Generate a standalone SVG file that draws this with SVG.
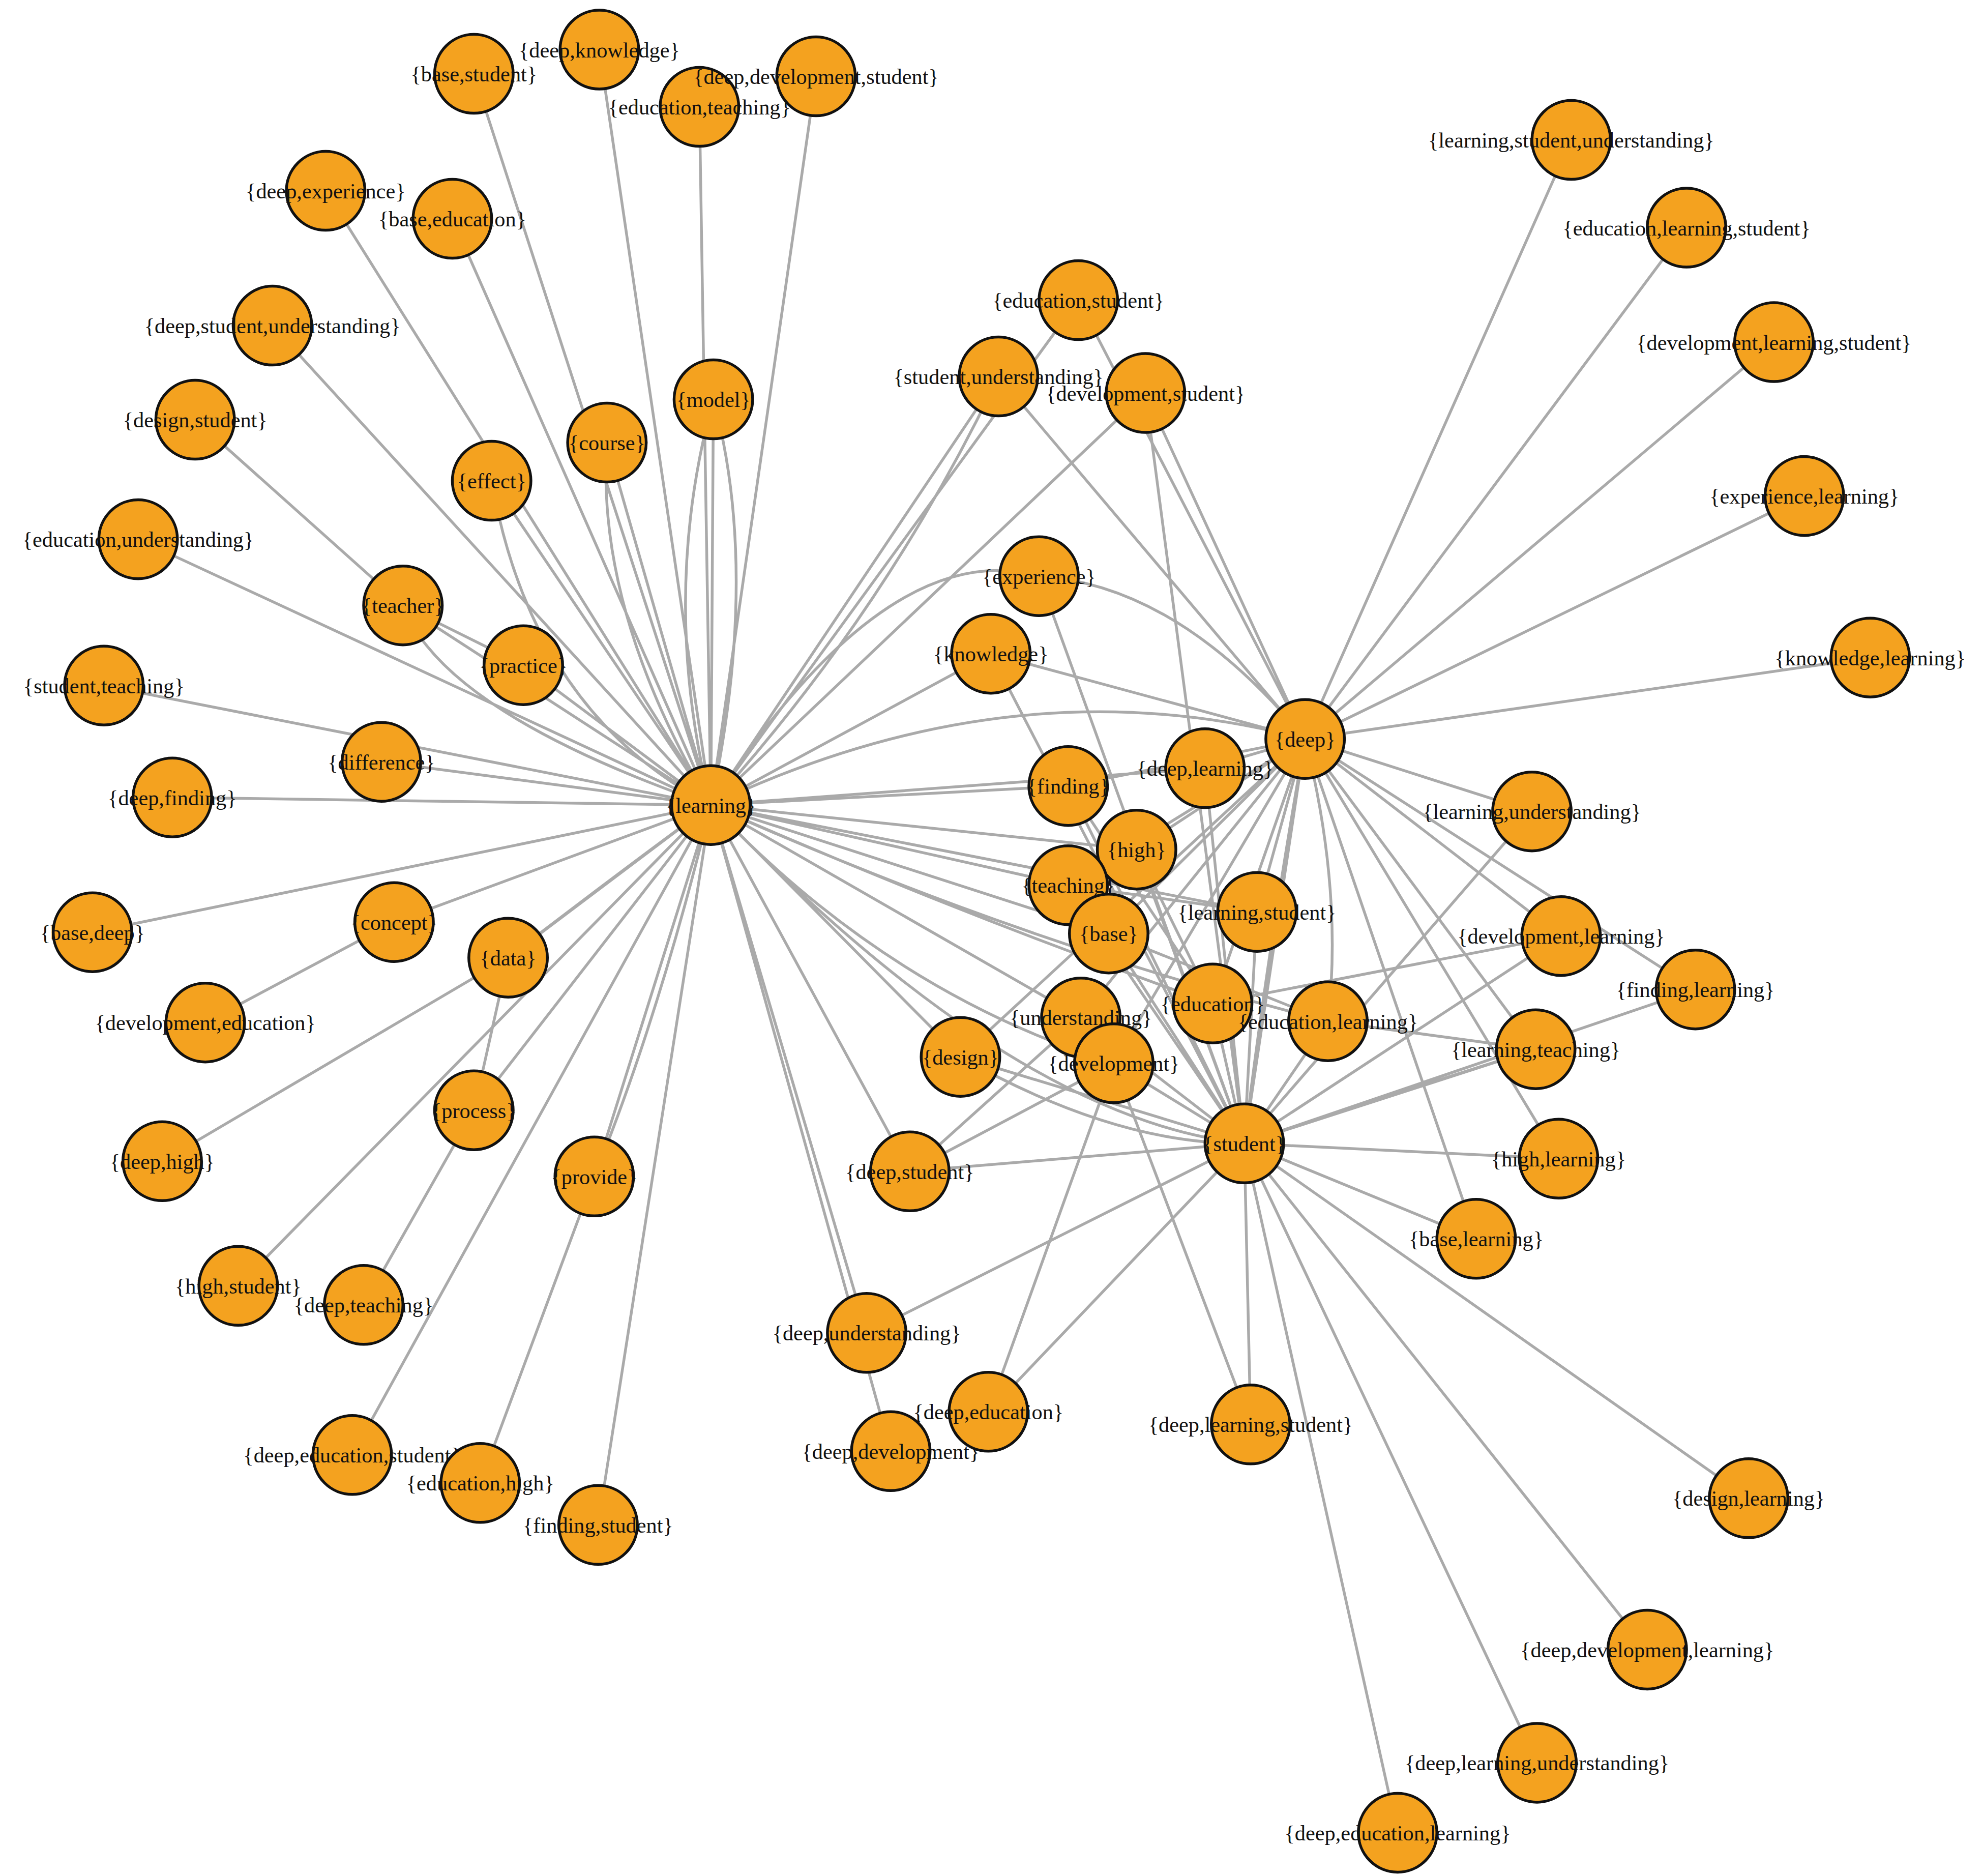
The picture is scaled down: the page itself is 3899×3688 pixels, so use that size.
<svg xmlns="http://www.w3.org/2000/svg" width="3899" height="3688" viewBox="0 0 3899 3688">
<style>
.e{stroke:#aaaaaa;stroke-width:2.2;fill:none}
.n circle{fill:#f4a21f;stroke:#111;stroke-width:2.2}
.n text{font-family:"Liberation Serif",serif;font-size:17px;text-anchor:middle;fill:#111}
</style>
<rect width="3899" height="3688" fill="#fff"/>
<g transform="scale(2.4914 2.5003)">
<g id="edges">
<!-- learning -->
<path class="e" d="M561,633 L563,314 M561,633 Q600,450 563,314 M561,633 Q520,470 563,314 M561,633 L479,348 M561,633 Q470,480 479,348 M561,633 L388,378 M561,633 Q420,560 388,378 M561,633 L318,476 M561,633 Q350,560 318,476 M561,633 L413,523 M561,633 L301,599 M561,633 L311,725 M561,633 L401,753 M561,633 Q470,700 401,753 M561,633 L374,873 M561,633 L469,925 M561,633 Q520,800 469,925 M561,633 L374,58 M561,633 L473,39 M561,633 L552,84 M561,633 L644,60 M561,633 L257,150 M561,633 L357,172 M561,633 L215,256 M561,633 L109,424 M561,633 L82,539 M561,633 L136,627 M561,633 L73,733 M561,633 L188,1011 M561,633 L278,1144 M561,633 L472,1199 M561,633 L684,1048 M561,633 L703,1141 M561,633 L718,921 M561,633 L851,236 M561,633 L788,296 M561,633 Q700,480 788,296 M561,633 L904,309 M561,633 Q700,420 820,453 M561,633 L782,514 M561,633 L843,618 M561,633 L897,668 M561,633 L843,696 M561,633 L875,734 M561,633 Q760,720 957,789 M561,633 L853,800 M561,633 Q700,780 879,836 M561,633 L758,831 M561,633 L951,604 M561,633 L992,717 M561,633 Q800,740 1048,803 M561,633 Q800,520 1030,581 M561,633 Q800,880 982,899"/>
<path class="e" d="M154,330 L318,476 M162,804 L311,725 M128,913 L401,753 M287,1026 L374,873 M379,1166 L469,925 M374,873 L401,753 M318,476 L413,523"/>
<!-- deep -->
<path class="e" d="M1030,581 L1240,110 M1030,581 L1331,179 M1030,581 L1400,269 M1030,581 L1424,390 M1030,581 L1476,517 M1030,581 L1209,638 M1030,581 L1232,736 M1030,581 L1338,778 M1030,581 L1212,825 M1030,581 L1230,911 M1030,581 L1165,974 M1030,581 L851,236 M1030,581 L788,296 M1030,581 L904,309 M1030,581 Q930,460 820,453 M1030,581 L782,514 M1030,581 L843,618 M1030,581 L897,668 M1030,581 L843,696 M1030,581 L875,734 M1030,581 L957,789 M1030,581 L853,800 M1030,581 L879,836 M1030,581 L758,831 M1030,581 L951,604 M1030,581 L992,717 M1030,581 Q1060,700 1048,803 M1030,581 L982,899 M1030,581 Q1000,750 982,899"/>
<!-- student -->
<path class="e" d="M982,899 L1209,638 M982,899 L1232,736 M982,899 L1338,778 M982,899 L1212,825 M982,899 Q1100,860 1212,825 M982,899 L1230,911 M982,899 L1165,974 M982,899 L1380,1178 M982,899 L1300,1297 M982,899 L1213,1386 M982,899 L1103,1441 M982,899 L987,1120 M982,899 L780,1110 M982,899 L684,1048 M982,899 L718,921 M982,899 L904,309 M982,899 L820,453 M982,899 L782,514 M982,899 L843,618 M982,899 L897,668 M982,899 L843,696 M982,899 L875,734 M982,899 L957,789 M982,899 L853,800 M982,899 L879,836 M982,899 L758,831 M982,899 Q880,900 758,831 M982,899 L951,604 M982,899 L992,717 M982,899 L1048,803"/>
<path class="e" d="M879,836 L987,1120 M879,836 L780,1110 M879,836 L718,921 M853,800 L718,921 M957,789 L1232,736 M1048,803 L1212,825 M875,734 L1048,803 M843,696 L992,717 M897,668 L957,789 M843,618 L957,789"/>
</g>
<g id="nodes">
<g class="n" id="n1"><circle cx="561" cy="633" r="31"/><text x="561" y="639">{learning}</text></g>
<g class="n" id="n2"><circle cx="1030" cy="581" r="31"/><text x="1030" y="587">{deep}</text></g>
<g class="n" id="n3"><circle cx="982" cy="899" r="31"/><text x="982" y="905">{student}</text></g>
<g class="n" id="n4"><circle cx="951" cy="604" r="31"/><text x="951" y="610">{deep,learning}</text></g>
<g class="n" id="n5"><circle cx="843" cy="618" r="31"/><text x="843" y="624">{finding}</text></g>
<g class="n" id="n6"><circle cx="897" cy="668" r="31"/><text x="897" y="674">{high}</text></g>
<g class="n" id="n7"><circle cx="843" cy="696" r="31"/><text x="843" y="702">{teaching}</text></g>
<g class="n" id="n8"><circle cx="992" cy="717" r="31"/><text x="992" y="723">{learning,student}</text></g>
<g class="n" id="n9"><circle cx="875" cy="734" r="31"/><text x="875" y="740">{base}</text></g>
<g class="n" id="n10"><circle cx="853" cy="800" r="31"/><text x="853" y="806">{understanding}</text></g>
<g class="n" id="n11"><circle cx="957" cy="789" r="31"/><text x="957" y="795">{education}</text></g>
<g class="n" id="n12"><circle cx="1048" cy="803" r="31"/><text x="1048" y="809">{education,learning}</text></g>
<g class="n" id="n13"><circle cx="879" cy="836" r="31"/><text x="879" y="842">{development}</text></g>
<g class="n" id="n14"><circle cx="758" cy="831" r="31"/><text x="758" y="837">{design}</text></g>
<g class="n" id="n15"><circle cx="820" cy="453" r="31"/><text x="820" y="459">{experience}</text></g>
<g class="n" id="n16"><circle cx="782" cy="514" r="31"/><text x="782" y="520">{knowledge}</text></g>
<g class="n" id="n17"><circle cx="718" cy="921" r="31"/><text x="718" y="927">{deep,student}</text></g>
<g class="n" id="n18"><circle cx="851" cy="236" r="31"/><text x="851" y="242">{education,student}</text></g>
<g class="n" id="n19"><circle cx="788" cy="296" r="31"/><text x="788" y="302">{student,understanding}</text></g>
<g class="n" id="n20"><circle cx="904" cy="309" r="31"/><text x="904" y="315">{development,student}</text></g>
<g class="n" id="n21"><circle cx="563" cy="314" r="31"/><text x="563" y="320">{model}</text></g>
<g class="n" id="n22"><circle cx="479" cy="348" r="31"/><text x="479" y="354">{course}</text></g>
<g class="n" id="n23"><circle cx="388" cy="378" r="31"/><text x="388" y="384">{effect}</text></g>
<g class="n" id="n24"><circle cx="318" cy="476" r="31"/><text x="318" y="482">{teacher}</text></g>
<g class="n" id="n25"><circle cx="413" cy="523" r="31"/><text x="413" y="529">{practice}</text></g>
<g class="n" id="n26"><circle cx="301" cy="599" r="31"/><text x="301" y="605">{difference}</text></g>
<g class="n" id="n27"><circle cx="311" cy="725" r="31"/><text x="311" y="731">{concept}</text></g>
<g class="n" id="n28"><circle cx="401" cy="753" r="31"/><text x="401" y="759">{data}</text></g>
<g class="n" id="n29"><circle cx="374" cy="873" r="31"/><text x="374" y="879">{process}</text></g>
<g class="n" id="n30"><circle cx="469" cy="925" r="31"/><text x="469" y="931">{provide}</text></g>
<g class="n" id="n31"><circle cx="374" cy="58" r="31"/><text x="374" y="64">{base,student}</text></g>
<g class="n" id="n32"><circle cx="473" cy="39" r="31"/><text x="473" y="45">{deep,knowledge}</text></g>
<g class="n" id="n33"><circle cx="552" cy="84" r="31"/><text x="552" y="90">{education,teaching}</text></g>
<g class="n" id="n34"><circle cx="644" cy="60" r="31"/><text x="644" y="66">{deep,development,student}</text></g>
<g class="n" id="n35"><circle cx="257" cy="150" r="31"/><text x="257" y="156">{deep,experience}</text></g>
<g class="n" id="n36"><circle cx="357" cy="172" r="31"/><text x="357" y="178">{base,education}</text></g>
<g class="n" id="n37"><circle cx="215" cy="256" r="31"/><text x="215" y="262">{deep,student,understanding}</text></g>
<g class="n" id="n38"><circle cx="154" cy="330" r="31"/><text x="154" y="336">{design,student}</text></g>
<g class="n" id="n39"><circle cx="109" cy="424" r="31"/><text x="109" y="430">{education,understanding}</text></g>
<g class="n" id="n40"><circle cx="82" cy="539" r="31"/><text x="82" y="545">{student,teaching}</text></g>
<g class="n" id="n41"><circle cx="136" cy="627" r="31"/><text x="136" y="633">{deep,finding}</text></g>
<g class="n" id="n42"><circle cx="73" cy="733" r="31"/><text x="73" y="739">{base,deep}</text></g>
<g class="n" id="n43"><circle cx="162" cy="804" r="31"/><text x="162" y="810">{development,education}</text></g>
<g class="n" id="n44"><circle cx="128" cy="913" r="31"/><text x="128" y="919">{deep,high}</text></g>
<g class="n" id="n45"><circle cx="188" cy="1011" r="31"/><text x="188" y="1017">{high,student}</text></g>
<g class="n" id="n46"><circle cx="287" cy="1026" r="31"/><text x="287" y="1032">{deep,teaching}</text></g>
<g class="n" id="n47"><circle cx="278" cy="1144" r="31"/><text x="278" y="1150">{deep,education,student}</text></g>
<g class="n" id="n48"><circle cx="379" cy="1166" r="31"/><text x="379" y="1172">{education,high}</text></g>
<g class="n" id="n49"><circle cx="472" cy="1199" r="31"/><text x="472" y="1205">{finding,student}</text></g>
<g class="n" id="n50"><circle cx="684" cy="1048" r="31"/><text x="684" y="1054">{deep,understanding}</text></g>
<g class="n" id="n51"><circle cx="703" cy="1141" r="31"/><text x="703" y="1147">{deep,development}</text></g>
<g class="n" id="n52"><circle cx="780" cy="1110" r="31"/><text x="780" y="1116">{deep,education}</text></g>
<g class="n" id="n53"><circle cx="987" cy="1120" r="31"/><text x="987" y="1126">{deep,learning,student}</text></g>
<g class="n" id="n54"><circle cx="1240" cy="110" r="31"/><text x="1240" y="116">{learning,student,understanding}</text></g>
<g class="n" id="n55"><circle cx="1331" cy="179" r="31"/><text x="1331" y="185">{education,learning,student}</text></g>
<g class="n" id="n56"><circle cx="1400" cy="269" r="31"/><text x="1400" y="275">{development,learning,student}</text></g>
<g class="n" id="n57"><circle cx="1424" cy="390" r="31"/><text x="1424" y="396">{experience,learning}</text></g>
<g class="n" id="n58"><circle cx="1476" cy="517" r="31"/><text x="1476" y="523">{knowledge,learning}</text></g>
<g class="n" id="n59"><circle cx="1209" cy="638" r="31"/><text x="1209" y="644">{learning,understanding}</text></g>
<g class="n" id="n60"><circle cx="1232" cy="736" r="31"/><text x="1232" y="742">{development,learning}</text></g>
<g class="n" id="n61"><circle cx="1338" cy="778" r="31"/><text x="1338" y="784">{finding,learning}</text></g>
<g class="n" id="n62"><circle cx="1212" cy="825" r="31"/><text x="1212" y="831">{learning,teaching}</text></g>
<g class="n" id="n63"><circle cx="1230" cy="911" r="31"/><text x="1230" y="917">{high,learning}</text></g>
<g class="n" id="n64"><circle cx="1165" cy="974" r="31"/><text x="1165" y="980">{base,learning}</text></g>
<g class="n" id="n65"><circle cx="1380" cy="1178" r="31"/><text x="1380" y="1184">{design,learning}</text></g>
<g class="n" id="n66"><circle cx="1300" cy="1297" r="31"/><text x="1300" y="1303">{deep,development,learning}</text></g>
<g class="n" id="n67"><circle cx="1213" cy="1386" r="31"/><text x="1213" y="1392">{deep,learning,understanding}</text></g>
<g class="n" id="n68"><circle cx="1103" cy="1441" r="31"/><text x="1103" y="1447">{deep,education,learning}</text></g>
</g>
</g>
</svg>
